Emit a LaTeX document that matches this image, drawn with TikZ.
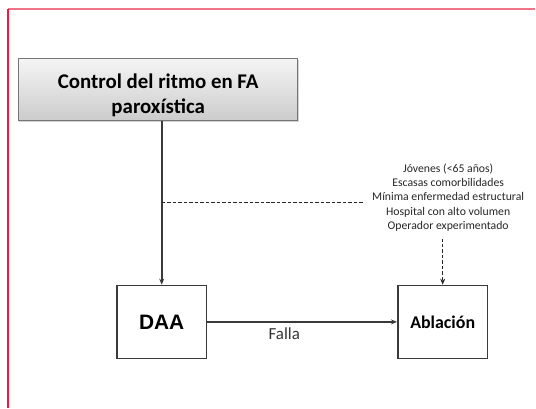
\documentclass[tikz,border=0pt]{standalone}
\usepackage{fontspec}
\setmainfont{Carlito}
\newfontfamily\daafont{Liberation Sans}
\usetikzlibrary{arrows.meta, positioning, shadows, calc}
\definecolor{linegray}{HTML}{3A3A3A}
\definecolor{framepink}{HTML}{F07488}
\definecolor{framered}{HTML}{FF1040}

\begin{document}
\begin{tikzpicture}[
    x=1bp, y=-1bp,
    % GLOBAL CFG
    >={Stealth[length=6bp, width=5bp]},
    % Styles
    topbox/.style={% For the starting box
        rectangle,
        draw=linegray!70,
        line width=1bp,
        top color=gray!8,
        bottom color=gray!40,
        drop shadow={shadow xshift=1bp, shadow yshift=-2bp, opacity=0.35},
        minimum width=280bp,
        minimum height=57bp,
        align=center,
        font=\bfseries\fontsize{21}{25}\selectfont,
        },
    stepbox/.style={% For the treatment boxes
        rectangle,
        draw=linegray,
        line width=1.6bp,
        fill=white,
        minimum width=90bp,
        minimum height=73bp,
        },
    crit/.style={% For the list of criteria
        align=center,
        inner sep=9bp,
        text=black!85,
        font=\fontsize{11.8}{14.3}\selectfont,
        },
    Arrow/.style={% Solid connectors
        draw=linegray,
        line width=1.6bp,
        },
    DArrow/.style={% Dashed connectors
        draw=black!85,
        line width=1bp,
        dash pattern=on 3.5bp off 2bp,
        },
    ]

    % Frame lines
    \draw [framepink, line width=2bp] (8,9) -- (536,9);
    \draw [framered, line width=1.5bp] (8,9) -- (8,409);
    \useasboundingbox (0,0) rectangle (536,409);

    % Draw the boxes
    \node [topbox] (ctrl) at (158.5,89.5) {\rule{0pt}{27bp}Control del ritmo en FA\\paroxística};
    \node [stepbox, font=\daafont\bfseries\fontsize{21}{24}\selectfont] (daa) at (162,322.5) {DAA};
    \node [stepbox, font=\bfseries\fontsize{18}{20}\selectfont] (abl) at (443.5,322.5) {Ablación};

    % Draw the criteria
    \node [crit] (crit) at (449,198) {Jóvenes (<65 años)\\Escasas comorbilidades\\Mínima enfermedad estructural\\Hospital con alto volumen\\Operador experimentado};

    % Connectors
    \draw [->, Arrow] (daa |- ctrl.south) -- (daa.north);
    \draw [->, Arrow] (daa) -- node [below=2bp, xshift=-18bp, font=\fontsize{17}{20}\selectfont, text=black!80] {Falla} (abl);

    % Dashed links
    \draw [DArrow] ($(daa |- crit.west)+(0,5)$) -- ($(crit.west)+(0,5)$);
    \draw [->, DArrow] ($(abl |- crit.south)+(0,-2)$) -- (abl.north);

\end{tikzpicture}
\end{document}
